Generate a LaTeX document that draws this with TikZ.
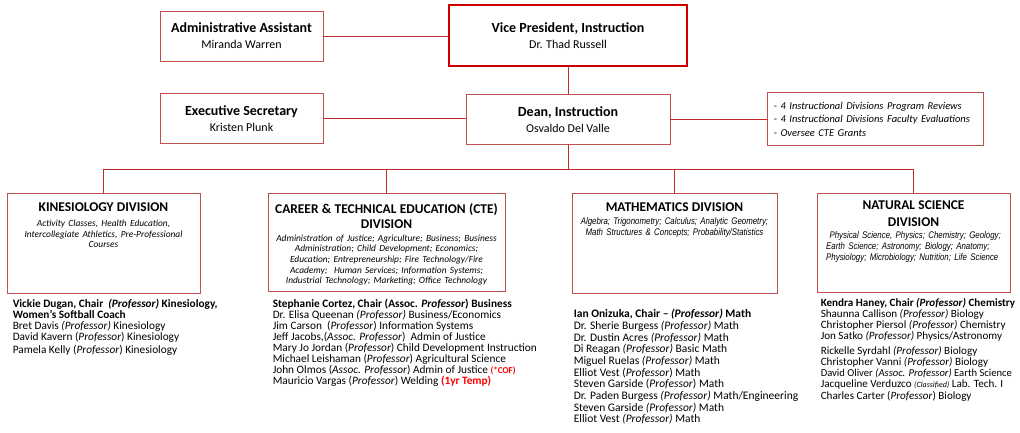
\documentclass[tikz,border=0pt]{standalone}
\usepackage{fontspec}
\setmainfont{Carlito}
\newfontfamily\narrowfont[FakeStretch=0.82]{Liberation Sans}
\usepackage{xcolor}
\usetikzlibrary{positioning}

\definecolor{linkred}{RGB}{192,40,45}
\definecolor{boxred}{RGB}{192,80,77}
\definecolor{vpred}{RGB}{204,0,0}

\newcommand{\headfont}{\fontsize{13.4}{15}\selectfont\bfseries}
\newcommand{\subjfont}{\fontsize{9.4}{10.6}\selectfont\itshape}
\newcommand{\narrowsubj}{\narrowfont\fontsize{9.6}{11}\selectfont\itshape}
\newcommand{\boxtitle}{\fontsize{14}{16}\selectfont\bfseries}

\begin{document}
\begin{tikzpicture}[
    x=1pt, y=-1pt,
    block/.style={rectangle, draw=boxred, line width=0.9pt, align=center, minimum width=163pt, minimum height=50pt, font=\fontsize{12}{16}\selectfont},
    division/.style={rectangle, draw=boxred, line width=0.9pt, anchor=north},
    divtext/.style={text width=#1, align=center, inner sep=0pt},
    staff/.style={align=left, inner sep=0pt, font=\fontsize{11.3}{11}\selectfont},
    link/.style={draw=linkred, line width=0.9pt},
]
    \useasboundingbox (0,0) rectangle (1020,433);

    % top of the chart
    \node[block, draw=vpred, line width=1.8pt, minimum width=238pt, minimum height=61pt] (vp) at (568,35.5)
        {{\boxtitle Vice President, Instruction}\\Dr. Thad Russell};
    \node[block] (asst) at (241.5,36) {{\boxtitle Administrative Assistant}\\Miranda Warren};
    \node[block, below=32pt of asst] (sec) {{\boxtitle Executive Secretary}\\Kristen Plunk};
    \node[block, minimum width=204pt, below=27pt of vp] (dean) {{\boxtitle Dean, Instruction}\\Osvaldo Del Valle};
    \node[block, right=97pt of dean, minimum height=53pt, text width=204pt, inner xsep=6pt, align=left,
        font=\fontsize{10.5}{13.5}\selectfont\itshape] (duties)
        {- 4 Instructional Divisions Program Reviews\\- 4 Instructional Divisions Faculty Evaluations\\- Oversee CTE Grants};

    % divisions
    \node[division, minimum width=193pt, minimum height=100pt] (kin) at (103.5,193) {};
    \node[division, minimum width=237pt, minimum height=98pt] (cte) at (386.5,193) {};
    \node[division, minimum width=205pt, minimum height=100pt] (math) at (674.5,193) {};
    \node[division, minimum width=193pt, minimum height=99pt] (natsci) at (913.5,193) {};

    \node[divtext=189pt, below=9.4pt of kin.north] (kintext)
        {{\headfont KINESIOLOGY DIVISION\par}\vspace{4.5pt}
         {\subjfont\begin{tabular}[t]{@{}c@{}}Activity Classes, Health Education,\\
          Intercollegiate Athletics, Pre-Professional\\Courses\end{tabular}\par}};
    \node[divtext=235pt, below=10pt of cte.north] (ctetext)
        {{\headfont CAREER \& TECHNICAL EDUCATION (CTE)\\DIVISION\par}\vspace{2.5pt}
         {\subjfont\begin{tabular}[t]{@{}c@{}}Administration of Justice; Agriculture; Business; Business\\
          Administration; Child Development; Economics;\\Education; Entrepreneurship; Fire Technology/Fire\\
          Academy;\ \ Human Services; Information Systems;\\Industrial Technology; Marketing; Office Technology\end{tabular}\par}};
    \node[divtext=203pt, below=9.4pt of math.north] (mathtext)
        {{\headfont MATHEMATICS DIVISION\par}\vspace{2pt}
         {\narrowsubj\begin{tabular}[t]{@{}c@{}}Algebra; Trigonometry; Calculus; Analytic Geometry;\\
          Math Structures \& Concepts; Probability/Statistics\end{tabular}\par}};
    \node[divtext=191pt, below=7.4pt of natsci.north] (natscitext)
        {{\headfont\fontsize{13.4}{17}\selectfont NATURAL SCIENCE\\DIVISION\par}\vspace{1pt}
         {\narrowsubj\begin{tabular}[t]{@{}l@{}}\ Physical Science, Physics; Chemistry; Geology;\\
          Earth Science; Astronomy; Biology; Anatomy;\\Physiology; Microbiology; Nutrition; Life Science\end{tabular}\par}};

    % faculty lists
    \node[staff, below right=5pt and 6pt of kin.south west] (kinstaff)
        {\textbf{Vickie Dugan, Chair\ \ \textit{(Professor)} Kinesiology,}\\
         \textbf{Women's Softball Coach}\\
         Bret Davis \textit{(Professor)} Kinesiology\\
         David Kavern (\textit{Professor}) Kinesiology\\[2pt]
         Pamela Kelly (\textit{Professor}) Kinesiology};
    \node[staff, below right=7pt and 5pt of cte.south west] (ctestaff)
        {\textbf{Stephanie Cortez, Chair (Assoc. \textit{Professor}) Business}\\
         Dr. Elisa Queenan \textit{(Professor)} Business/Economics\\
         Jim Carson\ \ (\textit{Professor}) Information Systems\\
         Jeff Jacobs,(\textit{Assoc. Professor})\ \ Admin of Justice\\
         Mary Jo Jordan (\textit{Professor}) Child Development Instruction\\
         Michael Leishaman (\textit{Professor}) Agricultural Science\\
         John Olmos (\textit{Assoc. Professor}) Admin of Justice {\color{red}\fontsize{9}{11}\selectfont\textbf{(*COF)}}\\
         Mauricio Vargas (\textit{Professor}) Welding {\color{red}\textbf{(1yr Temp)}}};
    \node[staff, font=\fontsize{11.5}{11.7}\selectfont, below right=15pt and 2pt of math.south west] (mathstaff)
        {\textbf{Ian Onizuka, Chair -- \textit{(Professor)} Math}\\
         Dr. Sherie Burgess \textit{(Professor)} Math\\
         Dr. Dustin Acres \textit{(Professor)} Math\\
         Di Reagan \textit{(Professor)} Basic Math\\
         Miguel Ruelas \textit{(Professor)} Math\\
         Elliot Vest (\textit{Professor}) Math\\
         Steven Garside (\textit{Professor}) Math\\
         Dr. Paden Burgess \textit{(Professor)} Math/Engineering\\
         Steven Garside \textit{(Professor)} Math\\
         Elliot Vest \textit{(Professor)} Math};
    \node[staff, font=\fontsize{11.1}{11.2}\selectfont, below right=5pt and 4pt of natsci.south west] (natscistaff)
        {\textbf{Kendra Haney, Chair \textit{(Professor)} Chemistry}\\
         Shaunna Callison \textit{(Professor)} Biology\\
         Christopher Piersol \textit{(Professor)} Chemistry\\
         Jon Satko \textit{(Professor)} Physics/Astronomy\\[3pt]
         Rickelle Syrdahl \textit{(Professor)} Biology\\
         Christopher Vanni \textit{(Professor)} Biology\\
         {\fontsize{10.6}{11.2}\selectfont David Oliver \textit{(Assoc. Professor)} Earth Science}\\
         Jacqueline Verduzco {\fontsize{8}{11}\selectfont\textit{(Classified)}} Lab. Tech. I\\[1pt]
         Charles Carter (\textit{Professor}) Biology};

    % connectors
    \coordinate (bus) at (568,169);
    \draw[link] (asst.east) -- (asst.east -| vp.west);
    \draw[link] (sec.east) -- (sec.east -| dean.west);
    \draw[link] (dean.east) -- (dean.east -| duties.west);
    \draw[link] (vp) -- (dean);
    \draw[link] (dean) -- (bus);
    \draw[link] (bus) -| (kin.north);
    \draw[link] (bus) -| (cte.north);
    \draw[link] (bus) -| (math.north);
    \draw[link] (bus) -| (natsci.north);
\end{tikzpicture}
\end{document}
